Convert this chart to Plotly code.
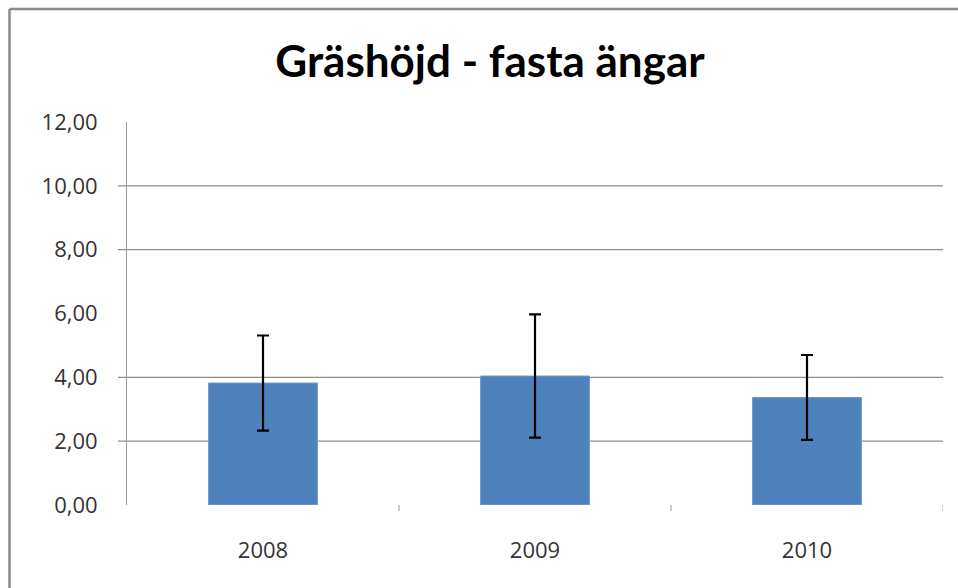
import plotly.graph_objects as go

years = ["2008", "2009", "2010"]
means = [3.82, 4.04, 3.37]
errors = [1.49, 1.93, 1.33]
y_ticks = [0, 2, 4, 6, 8, 10, 12]
y_tick_labels = ["0,00", "2,00", "4,00", "6,00", "8,00", "10,00", "12,00"]
grid_values = [2, 4, 8, 10]

W, H = 958, 588
ML, MT, PW, PH = 127, 122, 816, 383
MR = W - ML - PW
MB = H - MT - PH

fig = go.Figure()
fig.add_trace(go.Bar(
    x=years, y=means, width=0.4,
    marker=dict(color="#4f81bd", line=dict(color="#6a97cc", width=1)),
    error_y=dict(type="data", array=errors, visible=True,
                 color="black", thickness=2.2, width=6),
))

shapes = []
for g in grid_values:
    shapes.append(dict(type="line", xref="paper", yref="y",
                       x0=-9 / PW, x1=1, y0=g, y1=g,
                       line=dict(color="#8c8c8c", width=1.2), layer="below"))
# outer chart frame (left and top edges visible)
fx0 = (9.5 - ML) / PW
fy1 = (H - 9 - MB) / PH
shapes.append(dict(type="line", xref="paper", yref="paper",
                   x0=fx0, x1=fx0, y0=-(MB + 5) / PH, y1=fy1,
                   line=dict(color="#8a8a8a", width=2.5), layer="below"))
shapes.append(dict(type="line", xref="paper", yref="paper",
                   x0=fx0, x1=(W + 5 - ML) / PW, y0=fy1, y1=fy1,
                   line=dict(color="#8a8a8a", width=2.5), layer="below"))
# x category tick marks
for i in range(len(years)):
    shapes.append(dict(type="line", xref="x", yref="paper",
                       x0=i + 0.5, x1=i + 0.5, y0=0, y1=-6 / PH,
                       line=dict(color="#9a9a9a", width=1)))

fig.update_layout(
    width=W, height=H,
    margin=dict(l=ML, r=MR, t=MT, b=MB),
    paper_bgcolor="white", plot_bgcolor="white",
    showlegend=False,
    title=dict(text="<b>Gräshöjd - fasta ängar</b>", x=490 / W, xanchor="center",
               y=1 - 62 / H, yanchor="middle",
               font=dict(family="Lato, sans-serif", size=44, color="black")),
    shapes=shapes,
    bargap=0.6,
)
fig.update_xaxes(
    type="category", range=[-0.5, 2.5],
    showgrid=False, showline=False, zeroline=False, ticks="",
    tickfont=dict(family="Open Sans, sans-serif", size=22, color="#333333"),
    ticklabelstandoff=30,
)
fig.update_yaxes(
    range=[0, 12], tickvals=y_ticks, ticktext=y_tick_labels,
    showgrid=False, zeroline=False,
    showline=True, linecolor="#9a9a9a", linewidth=1,
    ticks="", ticklabelstandoff=24,
    tickfont=dict(family="Open Sans, sans-serif", size=22, color="#333333"),
)

fig.write_html(
    "out.html",
    config={"displayModeBar": False},
    post_script="document.body.style.margin='0';document.body.style.overflow='hidden';",
)
